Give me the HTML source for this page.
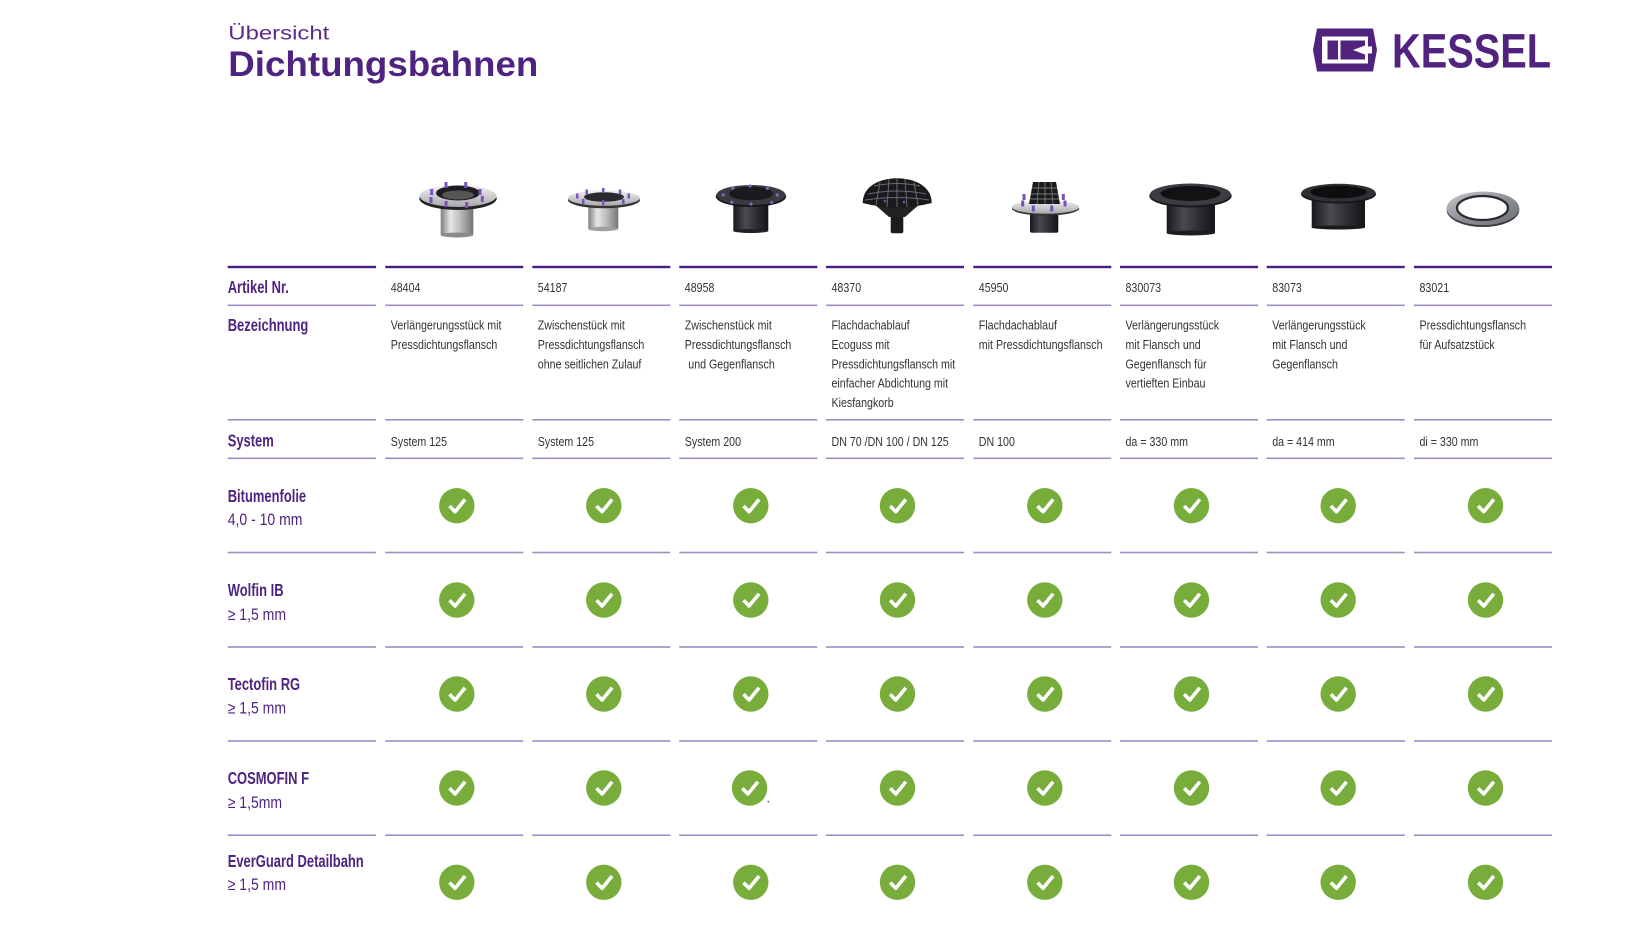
<!DOCTYPE html>
<html><head><meta charset="utf-8"><style>
html,body{margin:0;padding:0;background:#fff;}
svg{display:block;}
text{font-family:"Liberation Sans",sans-serif;}
.lb{font-size:18px;font-weight:bold;fill:#4f2381;}
.sl{font-size:16.5px;fill:#4f2381;}
.ct{font-size:13px;fill:#333;}
</style></head><body>
<svg width="1649" height="926" viewBox="0 0 1649 926" xmlns="http://www.w3.org/2000/svg">
<defs>
<linearGradient id="silverH" x1="0" x2="1" y1="0" y2="0"><stop offset="0" stop-color="#7e7e80"/><stop offset=".3" stop-color="#e6e6e8"/><stop offset=".6" stop-color="#bcbcbe"/><stop offset="1" stop-color="#747476"/></linearGradient>
<linearGradient id="silverT" x1="0" x2="0" y1="0" y2="1"><stop offset="0" stop-color="#f2f2f4"/><stop offset="1" stop-color="#a8a8ac"/></linearGradient>
<linearGradient id="darkH" x1="0" x2="1" y1="0" y2="0"><stop offset="0" stop-color="#18181c"/><stop offset=".35" stop-color="#4a4a52"/><stop offset=".7" stop-color="#2a2a30"/><stop offset="1" stop-color="#141417"/></linearGradient>
<linearGradient id="ringG" x1="0" x2="1" y1="0" y2="1"><stop offset="0" stop-color="#c8cace"/><stop offset=".5" stop-color="#8e9196"/><stop offset="1" stop-color="#6a6d72"/></linearGradient>
<g id="chk"><circle r="17.7" fill="#78ad3c"/><path d="M-7.3 0.3 L-1.7 6 L8.3 -6.3" fill="none" stroke="#fff" stroke-width="3.6" stroke-linejoin="round"/></g>
<g id="rl"><rect x="227.7" y="0" width="148.3" height="1.6"/><rect x="385.3" y="0" width="138" height="1.6"/><rect x="532.3" y="0" width="138" height="1.6"/><rect x="679.3" y="0" width="138" height="1.6"/><rect x="826" y="0" width="138" height="1.6"/><rect x="973.3" y="0" width="138" height="1.6"/><rect x="1120" y="0" width="138" height="1.6"/><rect x="1266.7" y="0" width="138" height="1.6"/><rect x="1414" y="0" width="138" height="1.6"/></g>
</defs>
<rect width="1649" height="926" fill="#fff"/>

<!-- Titles -->
<text x="228.3" y="39.3" font-size="19" fill="#5a2d8c" textLength="101" lengthAdjust="spacingAndGlyphs">Übersicht</text>
<text x="228.3" y="76" font-size="35" font-weight="bold" fill="#4f2381" textLength="310" lengthAdjust="spacingAndGlyphs">Dichtungsbahnen</text>

<!-- Logo -->
<g transform="translate(1313 28.5)">
<polygon points="4,0 60,0 64,21.5 60,43 4,43 0,21.5" fill="#51237f"/>
<rect x="9" y="8" width="46" height="27" fill="#fff"/>
<rect x="14.5" y="12" width="10.5" height="19" fill="#51237f"/>
<rect x="27.5" y="12" width="5.5" height="19" fill="#51237f"/>
<polygon points="33,12 52,12 52,17 40,21.5 52,26 52,31 33,31" fill="#51237f"/>
<polygon points="40,21.5 55,18 59,18 59,25 55,25" fill="#fff"/>
</g>
<text x="1392" y="67.7" font-size="48" font-weight="bold" fill="#51237f" textLength="159" lengthAdjust="spacingAndGlyphs">KESSEL</text>

<!-- Products -->
<g>
<rect x="440.7" y="203" width="32.6" height="32" fill="url(#silverH)"/>
<ellipse cx="457" cy="235" rx="16.3" ry="2.5" fill="#8a8a8c"/>
<ellipse cx="458" cy="198.5" rx="38.7" ry="11.5" fill="#222"/>
<ellipse cx="458" cy="196" rx="38.5" ry="11" fill="url(#silverT)"/>
<ellipse cx="458" cy="193" rx="22" ry="7.5" fill="#1e1e22"/>
<ellipse cx="458" cy="195" rx="16" ry="4.5" fill="#555"/>
<g fill="#7a52b8"><rect x="444.5" y="182" width="3" height="6"/><rect x="464.2" y="182" width="3" height="6"/><rect x="430.2" y="189" width="3" height="6"/><rect x="478.5" y="189" width="3" height="6"/><rect x="429.5" y="197" width="3" height="6"/><rect x="480.8" y="196" width="3" height="6"/><rect x="444.5" y="201" width="3" height="6"/><rect x="465.2" y="202" width="3" height="6"/></g>
</g>
<g>
<rect x="588.3" y="203" width="30" height="26" fill="url(#silverH)"/>
<ellipse cx="603.3" cy="229" rx="15" ry="2.2" fill="#a0a0a2"/>
<ellipse cx="604" cy="200" rx="36" ry="8.3" fill="#333"/>
<ellipse cx="604" cy="198" rx="36" ry="7.8" fill="url(#silverT)"/>
<ellipse cx="604" cy="197" rx="20" ry="4.8" fill="#2a2a2e"/>
<g fill="#7a52b8"><rect x="585.5" y="189.5" width="2.5" height="5"/><rect x="602" y="188" width="2.5" height="5"/><rect x="618.8" y="189.5" width="2.5" height="5"/><rect x="576" y="193.5" width="2.5" height="5"/><rect x="627.5" y="193.5" width="2.5" height="5"/><rect x="582" y="199" width="2.5" height="5"/><rect x="602" y="200" width="2.5" height="5"/><rect x="622" y="199" width="2.5" height="5"/></g>
</g>
<g>
<rect x="733.3" y="200" width="35" height="31" fill="url(#darkH)"/>
<ellipse cx="750.8" cy="231" rx="17.5" ry="2" fill="#222"/>
<ellipse cx="751" cy="196.5" rx="35.2" ry="10.5" fill="#18181b"/>
<ellipse cx="751" cy="195" rx="34.5" ry="10" fill="#3a3a40"/>
<ellipse cx="751" cy="193.5" rx="22" ry="6.8" fill="#1a1a1e"/>
<g fill="#8a62c8"><circle cx="732.7" cy="188.3" r="1.6"/><circle cx="750" cy="186" r="1.6"/><circle cx="767.3" cy="188.3" r="1.6"/><circle cx="723.3" cy="195" r="1.6"/><circle cx="777.3" cy="195" r="1.6"/><circle cx="731.7" cy="202.3" r="1.6"/><circle cx="751" cy="204" r="1.6"/><circle cx="771.7" cy="202.3" r="1.6"/></g>
</g>
<g>
<rect x="890.7" y="212" width="12.6" height="21.3" rx="2" fill="#1c1c1e"/>
<polygon points="873,203 921,203 905,217 889,217" fill="#222"/>
<path d="M862.7 203 C862.7 186 880 178.3 897 178.3 C914 178.3 931.7 186 931.7 203 Q897 212 862.7 203 Z" fill="#1a1a1c"/>
<g stroke="#6a6a70" stroke-width="1" fill="none"><path d="M868 194 Q897 188 926 194"/><path d="M865 200 Q897 195 929 200"/><path d="M874 186 Q897 181 920 186"/><path d="M880 182 L876 205"/><path d="M889 179 L887 207"/><path d="M897 178.5 L897 207"/><path d="M905 179 L907 207"/><path d="M914 182 L918 205"/></g>
<circle cx="885" cy="201" r="1.3" fill="#7a52b8"/><circle cx="904" cy="202" r="1.3" fill="#7a52b8"/>
</g>
<g>
<rect x="1030" y="208" width="28.3" height="24.7" rx="2" fill="url(#darkH)"/>
<ellipse cx="1045.6" cy="208.5" rx="33.6" ry="7" fill="#333"/>
<ellipse cx="1045.6" cy="207" rx="33.6" ry="6.8" fill="url(#silverT)"/>
<polygon points="1033,182 1056,182 1060,204 1029,204" fill="#1a1a1c"/>
<g stroke="#777" stroke-width="0.9" fill="none"><path d="M1032 188 L1057 188"/><path d="M1031 194 L1058 194"/><path d="M1030 199 L1059 199"/><path d="M1039 182 L1037 204"/><path d="M1045 182 L1045 204"/><path d="M1051 182 L1053 204"/></g>
<g fill="#7a52b8"><rect x="1022.5" y="194" width="3" height="6"/><rect x="1031.8" y="205.5" width="3" height="6"/><rect x="1050.2" y="205.5" width="3" height="6"/><rect x="1061.8" y="194" width="3" height="6"/><rect x="1063.5" y="200.5" width="3" height="6"/><rect x="1021.2" y="200.5" width="3" height="6"/></g>
</g>
<g>
<rect x="1166.7" y="200" width="48.3" height="33" fill="url(#darkH)"/>
<ellipse cx="1190.8" cy="233" rx="24.2" ry="2.5" fill="#1e1e22"/>
<ellipse cx="1190.5" cy="196" rx="41.2" ry="11.5" fill="#1a1a1e"/>
<ellipse cx="1190.5" cy="194.5" rx="40.5" ry="11" fill="#3c3c42"/>
<ellipse cx="1190.5" cy="193.5" rx="30" ry="7.5" fill="#121215"/>
</g>
<g>
<rect x="1311.7" y="196" width="53.3" height="31.5" fill="url(#darkH)"/>
<ellipse cx="1338.3" cy="227.5" rx="26.6" ry="2" fill="#1a1a1c"/>
<ellipse cx="1338.5" cy="194" rx="37.5" ry="9.5" fill="#161618"/>
<ellipse cx="1338.5" cy="192.8" rx="37" ry="9" fill="#303034"/>
<ellipse cx="1338.5" cy="192" rx="28" ry="6.3" fill="#0e0e10"/>
</g>
<g>
<ellipse cx="1483" cy="210" rx="36.3" ry="17" fill="#3a3a3e"/>
<ellipse cx="1483" cy="208.3" rx="36.3" ry="16.8" fill="url(#ringG)"/>
<ellipse cx="1482.5" cy="208" rx="25.5" ry="12" fill="#fff" stroke="#2a2a2e" stroke-width="2.2"/>
</g>

<!-- Lines -->
<g fill="#4a1d80">
<rect x="227.7" y="265.8" width="148.3" height="2.4"/>
<rect x="385.3" y="265.8" width="138" height="2.4"/><rect x="532.3" y="265.8" width="138" height="2.4"/><rect x="679.3" y="265.8" width="138" height="2.4"/><rect x="826" y="265.8" width="138" height="2.4"/><rect x="973.3" y="265.8" width="138" height="2.4"/><rect x="1120" y="265.8" width="138" height="2.4"/><rect x="1266.7" y="265.8" width="138" height="2.4"/><rect x="1414" y="265.8" width="138" height="2.4"/>
</g>
<g fill="#a08bc6">
<use href="#rl" y="304.5"/><use href="#rl" y="419"/><use href="#rl" y="457.5"/><use href="#rl" y="551.7"/><use href="#rl" y="646.2"/><use href="#rl" y="740.2"/><use href="#rl" y="834.4"/>
</g>

<!-- Labels -->
<text class="lb" transform="translate(227.7 293) scale(.72 1)">Artikel Nr.</text>
<text class="lb" transform="translate(227.7 331) scale(.72 1)">Bezeichnung</text>
<text class="lb" transform="translate(227.7 446.5) scale(.72 1)">System</text>
<text class="lb" transform="translate(227.7 502) scale(.72 1)">Bitumenfolie</text>
<text class="sl" transform="translate(227.7 525) scale(.85 1)">4,0 - 10 mm</text>
<text class="lb" transform="translate(227.7 596) scale(.72 1)">Wolfin IB</text>
<text class="sl" transform="translate(227.7 620) scale(.85 1)">≥ 1,5 mm</text>
<text class="lb" transform="translate(227.7 690) scale(.72 1)">Tectofin RG</text>
<text class="sl" transform="translate(227.7 713.3) scale(.85 1)">≥ 1,5 mm</text>
<text class="lb" transform="translate(227.7 784) scale(.72 1)">COSMOFIN F</text>
<text class="sl" transform="translate(227.7 808) scale(.85 1)">≥ 1,5mm</text>
<text class="lb" transform="translate(227.7 867) scale(.72 1)">EverGuard Detailbahn</text>
<text class="sl" transform="translate(227.7 890) scale(.85 1)">≥ 1,5 mm</text>

<!-- Article numbers -->
<text class="ct" transform="translate(390.8 292) scale(.82 1)">48404</text>
<text class="ct" transform="translate(537.8 292) scale(.82 1)">54187</text>
<text class="ct" transform="translate(684.8 292) scale(.82 1)">48958</text>
<text class="ct" transform="translate(831.5 292) scale(.82 1)">48370</text>
<text class="ct" transform="translate(978.8 292) scale(.82 1)">45950</text>
<text class="ct" transform="translate(1125.5 292) scale(.82 1)">830073</text>
<text class="ct" transform="translate(1272.2 292) scale(.82 1)">83073</text>
<text class="ct" transform="translate(1419.5 292) scale(.82 1)">83021</text>

<!-- Bezeichnung -->
<text class="ct" transform="translate(390.8 329.5) scale(.82 1)">Verlängerungsstück mit</text>
<text class="ct" transform="translate(390.8 348.9) scale(.82 1)">Pressdichtungsflansch</text>

<text class="ct" transform="translate(537.8 329.5) scale(.82 1)">Zwischenstück mit</text>
<text class="ct" transform="translate(537.8 348.9) scale(.82 1)">Pressdichtungsflansch</text>
<text class="ct" transform="translate(537.8 368.3) scale(.82 1)">ohne seitlichen Zulauf</text>

<text class="ct" transform="translate(684.8 329.5) scale(.82 1)">Zwischenstück mit</text>
<text class="ct" transform="translate(684.8 348.9) scale(.82 1)">Pressdichtungsflansch</text>
<text class="ct" transform="translate(688.3 368.3) scale(.82 1)">und Gegenflansch</text>

<text class="ct" transform="translate(831.5 329.5) scale(.82 1)">Flachdachablauf</text>
<text class="ct" transform="translate(831.5 348.9) scale(.82 1)">Ecoguss mit</text>
<text class="ct" transform="translate(831.5 368.3) scale(.82 1)">Pressdichtungsflansch mit</text>
<text class="ct" transform="translate(831.5 387.7) scale(.82 1)">einfacher Abdichtung mit</text>
<text class="ct" transform="translate(831.5 407.1) scale(.82 1)">Kiesfangkorb</text>

<text class="ct" transform="translate(978.8 329.5) scale(.82 1)">Flachdachablauf</text>
<text class="ct" transform="translate(978.8 348.9) scale(.82 1)">mit Pressdichtungsflansch</text>

<text class="ct" transform="translate(1125.5 329.5) scale(.82 1)">Verlängerungsstück</text>
<text class="ct" transform="translate(1125.5 348.9) scale(.82 1)">mit Flansch und</text>
<text class="ct" transform="translate(1125.5 368.3) scale(.82 1)">Gegenflansch für</text>
<text class="ct" transform="translate(1125.5 387.7) scale(.82 1)">vertieften Einbau</text>

<text class="ct" transform="translate(1272.2 329.5) scale(.82 1)">Verlängerungsstück</text>
<text class="ct" transform="translate(1272.2 348.9) scale(.82 1)">mit Flansch und</text>
<text class="ct" transform="translate(1272.2 368.3) scale(.82 1)">Gegenflansch</text>

<text class="ct" transform="translate(1419.5 329.5) scale(.82 1)">Pressdichtungsflansch</text>
<text class="ct" transform="translate(1419.5 348.9) scale(.82 1)">für Aufsatzstück</text>

<!-- System -->
<text class="ct" transform="translate(390.8 446) scale(.82 1)">System 125</text>
<text class="ct" transform="translate(537.8 446) scale(.82 1)">System 125</text>
<text class="ct" transform="translate(684.8 446) scale(.82 1)">System 200</text>
<text class="ct" transform="translate(831.5 446) scale(.82 1)">DN 70 /DN 100 / DN 125</text>
<text class="ct" transform="translate(978.8 446) scale(.82 1)">DN 100</text>
<text class="ct" transform="translate(1125.5 446) scale(.82 1)">da = 330 mm</text>
<text class="ct" transform="translate(1272.2 446) scale(.82 1)">da = 414 mm</text>
<text class="ct" transform="translate(1419.5 446) scale(.82 1)">di = 330 mm</text>

<!-- Checks -->
<use href="#chk" transform="translate(456.8 505.7)"/><use href="#chk" transform="translate(603.8 505.7)"/><use href="#chk" transform="translate(750.8 505.7)"/><use href="#chk" transform="translate(897.5 505.7)"/><use href="#chk" transform="translate(1044.8 505.7)"/><use href="#chk" transform="translate(1191.5 505.7)"/><use href="#chk" transform="translate(1338.2 505.7)"/><use href="#chk" transform="translate(1485.5 505.7)"/>
<use href="#chk" transform="translate(456.8 600)"/><use href="#chk" transform="translate(603.8 600)"/><use href="#chk" transform="translate(750.8 600)"/><use href="#chk" transform="translate(897.5 600)"/><use href="#chk" transform="translate(1044.8 600)"/><use href="#chk" transform="translate(1191.5 600)"/><use href="#chk" transform="translate(1338.2 600)"/><use href="#chk" transform="translate(1485.5 600)"/>
<use href="#chk" transform="translate(456.8 694)"/><use href="#chk" transform="translate(603.8 694)"/><use href="#chk" transform="translate(750.8 694)"/><use href="#chk" transform="translate(897.5 694)"/><use href="#chk" transform="translate(1044.8 694)"/><use href="#chk" transform="translate(1191.5 694)"/><use href="#chk" transform="translate(1338.2 694)"/><use href="#chk" transform="translate(1485.5 694)"/>
<use href="#chk" transform="translate(456.8 788)"/><use href="#chk" transform="translate(603.8 788)"/><use href="#chk" transform="translate(749.6 788)"/><use href="#chk" transform="translate(897.5 788)"/><use href="#chk" transform="translate(1044.8 788)"/><use href="#chk" transform="translate(1191.5 788)"/><use href="#chk" transform="translate(1338.2 788)"/><use href="#chk" transform="translate(1485.5 788)"/>
<use href="#chk" transform="translate(456.8 882.3)"/><use href="#chk" transform="translate(603.8 882.3)"/><use href="#chk" transform="translate(750.8 882.3)"/><use href="#chk" transform="translate(897.5 882.3)"/><use href="#chk" transform="translate(1044.8 882.3)"/><use href="#chk" transform="translate(1191.5 882.3)"/><use href="#chk" transform="translate(1338.2 882.3)"/><use href="#chk" transform="translate(1485.5 882.3)"/>
<circle cx="768.3" cy="801.7" r="0.9" fill="#666"/>
</svg>
</body></html>
